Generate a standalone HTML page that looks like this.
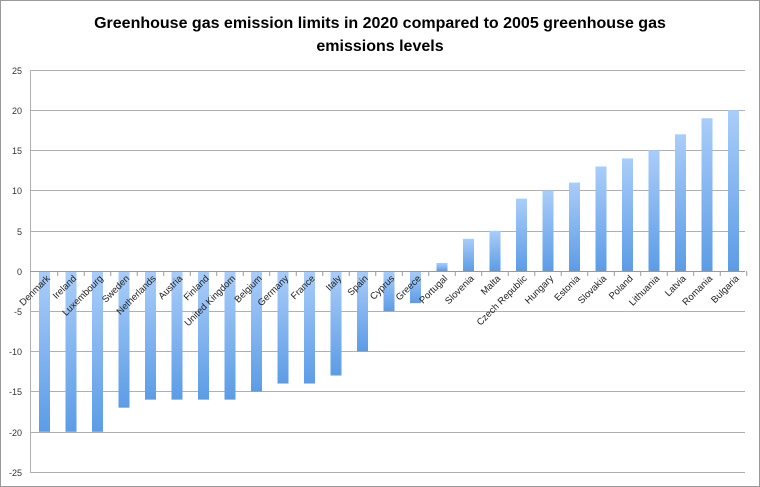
<!DOCTYPE html>
<html><head><meta charset="utf-8"><style>
html,body{margin:0;padding:0;background:#fff}
svg{display:block;font-family:"Liberation Sans",sans-serif}
</style></head><body>
<svg width="760" height="487" viewBox="0 0 760 487" xmlns="http://www.w3.org/2000/svg">
<defs>
<linearGradient id="g" x1="0" y1="0" x2="0" y2="1">
<stop offset="0" stop-color="#aacdf9"/>
<stop offset="1" stop-color="#5c9ce6"/>
</linearGradient>
</defs>
<rect x="0.5" y="0.5" width="759" height="486" fill="#fff" stroke="#999"/>
<text x="380" y="28" font-size="16" font-weight="bold" text-anchor="middle" fill="#000">Greenhouse gas emission limits in 2020 compared to 2005 greenhouse gas</text>
<text x="380" y="51" font-size="16" font-weight="bold" text-anchor="middle" fill="#000">emissions levels</text>
<g stroke="#b0b0b0" stroke-width="1">
<line x1="30" y1="70.5" x2="745" y2="70.5"/>
<line x1="30" y1="110.5" x2="745" y2="110.5"/>
<line x1="30" y1="150.5" x2="745" y2="150.5"/>
<line x1="30" y1="190.5" x2="745" y2="190.5"/>
<line x1="30" y1="231.5" x2="745" y2="231.5"/>
<line x1="30" y1="311.5" x2="745" y2="311.5"/>
<line x1="30" y1="351.5" x2="745" y2="351.5"/>
<line x1="30" y1="391.5" x2="745" y2="391.5"/>
<line x1="30" y1="432.5" x2="745" y2="432.5"/>
<line x1="30" y1="472.5" x2="745" y2="472.5"/>
<line x1="30.5" y1="70" x2="30.5" y2="472"/>
</g>
<g font-size="9" fill="#333" text-anchor="end">
<text x="22" y="74">25</text><text x="22" y="114">20</text><text x="22" y="154">15</text>
<text x="22" y="194">10</text><text x="22" y="235">5</text><text x="22" y="275">0</text>
<text x="22" y="315">-5</text><text x="22" y="355">-10</text><text x="22" y="395">-15</text>
<text x="22" y="436">-20</text><text x="22" y="476">-25</text>
</g>
<g id="bars"></g>
<line x1="30" y1="271.5" x2="745" y2="271.5" stroke="#999"/>
<g id="ticks" stroke="#999"></g>
<g id="labels" font-size="9.5" fill="#222"></g>
</svg>
<script>
var d=[["Denmark",-20],["Ireland",-20],["Luxembourg",-20],["Sweden",-17],["Netherlands",-16],["Austria",-16],["Finland",-16],["United Kingdom",-16],["Belgium",-15],["Germany",-14],["France",-14],["Italy",-13],["Spain",-10],["Cyprus",-5],["Greece",-4],["Portugal",1],["Slovenia",4],["Malta",5],["Czech Republic",9],["Hungary",10],["Estonia",11],["Slovakia",13],["Poland",14],["Lithuania",15],["Latvia",17],["Romania",19],["Bulgaria",20]];
var ns="http://www.w3.org/2000/svg",b=document.getElementById("bars"),t=document.getElementById("ticks"),l=document.getElementById("labels");
function el(p,n,a,txt){var e=document.createElementNS(ns,n);for(var k in a)e.setAttribute(k,a[k]);if(txt)e.textContent=txt;p.appendChild(e);}
d.forEach(function(v,i){var c=44.5+i*26.5,z=271,h=v[1]*8.04;
el(b,"rect",{x:c-5.5,y:h>0?z-h:z,width:11,height:Math.abs(h),fill:"url(#g)"});
el(t,"line",{x1:c+13.25,y1:271,x2:c+13.25,y2:276});
el(l,"text",{x:0,y:0,"text-anchor":"end",transform:"translate("+(c+6)+",279) rotate(-45)"},v[0]);});
</script>
</body></html>
